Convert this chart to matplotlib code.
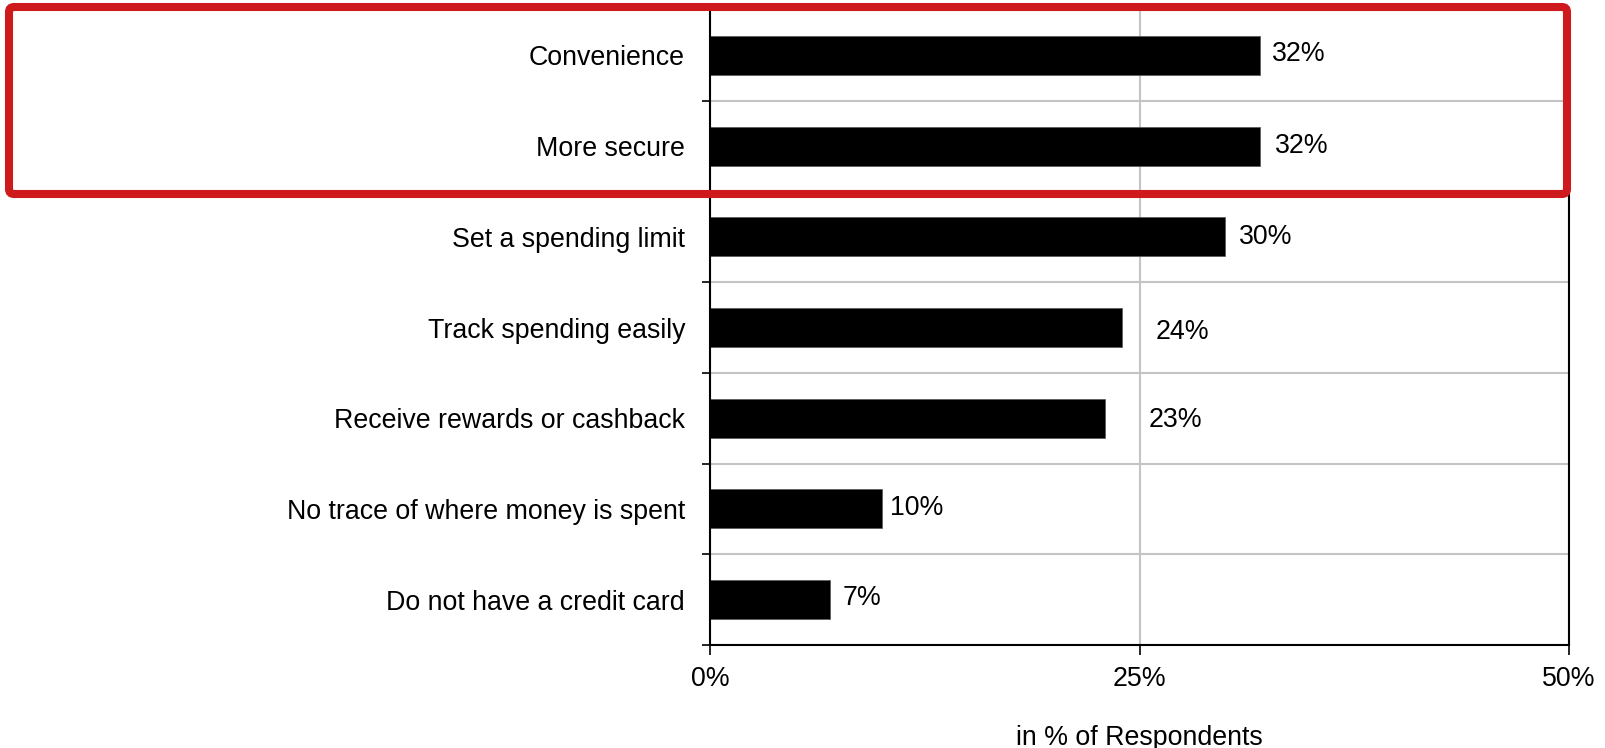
import matplotlib.pyplot as plt
from matplotlib.patches import FancyBboxPatch
from matplotlib.transforms import IdentityTransform

plt.rcParams["font.family"] = ["Liberation Sans", "DejaVu Sans"]

categories = [
    "Convenience",
    "More secure",
    "Set a spending limit",
    "Track spending easily",
    "Receive rewards or cashback",
    "No trace of where money is spent",
    "Do not have a credit card",
]
values = [32, 32, 30, 24, 23, 10, 7]
value_labels = ["32%", "32%", "30%", "24%", "23%", "10%", "7%"]
x_ticks = [0, 25, 50]
x_tick_labels = ["0%", "25%", "50%"]

# label offsets in points, as placed in the original
label_offsets = [(9, 1), (11, 0), (10, 0), (24, -3), (31, -1), (6, 1), (9, 1)]

FS = 19.3

fig = plt.figure(figsize=(16.06, 7.48), dpi=100)
ax = fig.add_axes([0.4421, 0.1377, 0.9770 - 0.4421, 0.9866 - 0.1377])

pos = list(range(len(categories)))
ax.barh(pos, values, height=0.43, color="black", edgecolor="#555555", linewidth=0.5, zorder=3)

for p, v, lab, off in zip(pos, values, value_labels, label_offsets):
    ax.annotate(lab, (v, p), xytext=off, textcoords="offset points",
                ha="left", va="center", fontsize=FS, color="black")

ax.set_xlim(0, 50)
ax.set_ylim(-0.5, len(categories) - 0.5)
ax.invert_yaxis()

ax.set_yticks(pos)
ax.set_yticklabels(categories, fontsize=FS)
ax.set_yticks([p - 0.5 for p in range(len(categories) + 1)], minor=True)
ax.tick_params(axis="y", which="major", length=0, pad=18)
ax.tick_params(axis="y", which="minor", length=6, width=1.2, direction="out", color="black")

ax.set_xticks(x_ticks)
ax.set_xticklabels(x_tick_labels, fontsize=FS)
ax.tick_params(axis="x", which="major", length=7, width=1.2, direction="out", pad=8, color="black")

ax.grid(axis="y", which="minor", color="#c4c4c4", linewidth=1.5, zorder=1)
ax.grid(axis="x", which="major", color="#c4c4c4", linewidth=1.5, zorder=1)

for side in ["left", "bottom", "right"]:
    ax.spines[side].set_linewidth(1.5)
    ax.spines[side].set_color("black")
    ax.spines[side].set_zorder(4)
ax.spines["top"].set_visible(False)

ax.set_xlabel("in % of Respondents", fontsize=FS, labelpad=24)

# red highlight box around the two top rows (pixel coords)
box = FancyBboxPatch((9, 748 - 194), 1567 - 9, 194 - 7,
                     boxstyle="round,pad=0,rounding_size=5",
                     transform=IdentityTransform(), fill=False,
                     edgecolor="#cf1a1d", linewidth=5.8, zorder=10)
fig.add_artist(box)

fig.savefig("out.png", dpi=100)
